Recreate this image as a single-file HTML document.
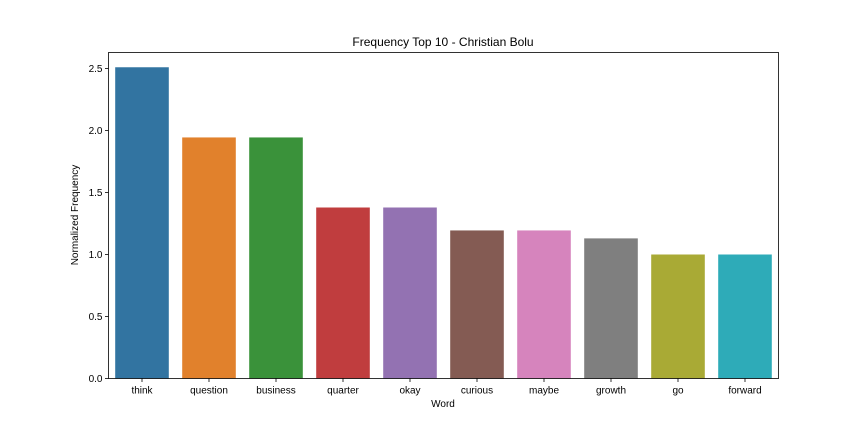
<!DOCTYPE html>
<html><head><meta charset="utf-8"><style>
body{margin:0;background:#fff;}
svg{display:block;font-family:"Liberation Sans","DejaVu Sans",sans-serif;}
</style></head><body>
<svg id="chart" width="864" height="432">
<rect width="864" height="432" fill="#fff"/>
<text x="443" y="46" text-anchor="middle" font-size="12">Frequency Top 10 - Christian Bolu</text>
<text x="443" y="407" text-anchor="middle" font-size="10">Word</text>
<text transform="translate(78,215) rotate(-90)" text-anchor="middle" font-size="10">Normalized Frequency</text>
<g id="bars"></g><g id="yticks"></g><g id="xticks"></g>
<rect x="108.5" y="52.5" width="670" height="326" fill="none" stroke="#000" stroke-width="0.8"/>
</svg>
<script>
const categories=["think","question","business","quarter","okay","curious","maybe","growth","go","forward"];
const values=[2.51,1.944,1.944,1.379,1.379,1.194,1.194,1.13,1.0,1.0];
const colors=["#3274a1","#e1812c","#3a923a","#c03d3e","#9372b2","#845b53","#d684bd","#7f7f7f","#a9aa35","#2eabb8"];
const yTicks=[0,0.5,1.0,1.5,2.0,2.5];
const yTickLabels=["0.0","0.5","1.0","1.5","2.0","2.5"];
const L=108.5,R=778.5,T=52.5,B=378.5,yMax=2.629;
const ns="http://www.w3.org/2000/svg";
function y(v){return B-(v/yMax)*(B-T);}
function xc(i){const s=(R-L)/categories.length;return L+s*(i+0.5);}
const bw=(R-L)/categories.length*0.8;
const bars=document.getElementById('bars'),yt=document.getElementById('yticks'),xt=document.getElementById('xticks');
values.forEach((v,i)=>{
 const r=document.createElementNS(ns,'rect');
 r.setAttribute('x',xc(i)-bw/2);r.setAttribute('y',y(v));r.setAttribute('width',bw);r.setAttribute('height',B-y(v));r.setAttribute('fill',colors[i]);
 
 
 bars.appendChild(r);
});
yTicks.forEach((v,i)=>{
 const l=document.createElementNS(ns,'line');
 l.setAttribute('x1',L-3.5);l.setAttribute('x2',L);l.setAttribute('y1',y(v));l.setAttribute('y2',y(v));l.setAttribute('stroke','#000');l.setAttribute('stroke-width','0.8');
 
 
 yt.appendChild(l);
 const t=document.createElementNS(ns,'text');
 t.setAttribute('x',L-6);t.setAttribute('y',y(v)+3.5);t.setAttribute('text-anchor','end');t.setAttribute('font-size','10');t.textContent=yTickLabels[i];
 
 
 yt.appendChild(t);
});
categories.forEach((c,i)=>{
 const l=document.createElementNS(ns,'line');
 l.setAttribute('x1',xc(i));l.setAttribute('x2',xc(i));l.setAttribute('y1',B);l.setAttribute('y2',B+3.5);l.setAttribute('stroke','#000');l.setAttribute('stroke-width','0.8');
 
 
 xt.appendChild(l);
 const t=document.createElementNS(ns,'text');
 t.setAttribute('x',xc(i));t.setAttribute('y',B+15);t.setAttribute('text-anchor','middle');t.setAttribute('font-size','10');t.textContent=c;
 
 
 xt.appendChild(t);
});
</script>
</body></html>
